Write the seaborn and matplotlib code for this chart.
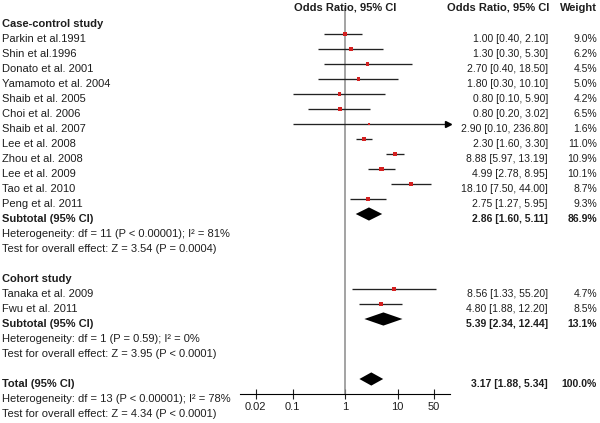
import numpy as np
import pandas as pd
import matplotlib
matplotlib.use('Agg')
import matplotlib.pyplot as plt
import matplotlib.transforms as mtransforms
from matplotlib.ticker import NullLocator
import seaborn as sns

# Case-control studies
cc_names = ['Parkin et al.1991', 'Shin et al.1996', 'Donato et al. 2001', 'Yamamoto et al. 2004',
            'Shaib et al. 2005', 'Choi et al. 2006', 'Shaib et al. 2007', 'Lee et al. 2008',
            'Zhou et al. 2008', 'Lee et al. 2009', 'Tao et al. 2010', 'Peng et al. 2011']
cc_or = [1.00, 1.30, 2.70, 1.80, 0.80, 0.80, 2.90, 2.30, 8.88, 4.99, 18.10, 2.75]
cc_lo = [0.40, 0.30, 0.40, 0.30, 0.10, 0.20, 0.10, 1.60, 5.97, 2.78, 7.50, 1.27]
cc_hi = [2.10, 5.30, 18.50, 10.10, 5.90, 3.02, 236.80, 3.30, 13.19, 8.95, 44.00, 5.95]
cc_w = [9.0, 6.2, 4.5, 5.0, 4.2, 6.5, 1.6, 11.0, 10.9, 10.1, 8.7, 9.3]
cc_sub = (2.86, 1.60, 5.11, 86.9)
cc_het = 'Heterogeneity: df = 11 (P < 0.00001); I² = 81%'
cc_test = 'Test for overall effect: Z = 3.54 (P = 0.0004)'

# Cohort studies
co_names = ['Tanaka et al. 2009', 'Fwu et al. 2011']
co_or = [8.56, 4.80]
co_lo = [1.33, 1.88]
co_hi = [55.20, 12.20]
co_w = [4.7, 8.5]
co_sub = (5.39, 2.34, 12.44, 13.1)
co_het = 'Heterogeneity: df = 1 (P = 0.59); I² = 0%'
co_test = 'Test for overall effect: Z = 3.95 (P < 0.0001)'

# Total
tot = (3.17, 1.88, 5.34, 100.0)
tot_het = 'Heterogeneity: df = 13 (P < 0.00001); I² = 78%'
tot_test = 'Test for overall effect: Z = 4.34 (P < 0.0001)'

tick_vals = [0.02, 0.1, 1, 10, 50]
tick_labels = ['0.02', '0.1', '1', '10', '50']

# rows of the table, one per line
rows = []
def add(label, kind='text', est=np.nan, lo=np.nan, hi=np.nan, w=np.nan, bold=False):
    rows.append(dict(label=label, kind=kind, est=est, lo=lo, hi=hi, w=w, bold=bold))

add('', 'header')
add('Case-control study', bold=True)
for n, e, l, h, w in zip(cc_names, cc_or, cc_lo, cc_hi, cc_w):
    add(n, 'study', e, l, h, w)
add('Subtotal (95% CI)', 'diamond', *cc_sub, bold=True)
add(cc_het)
add(cc_test)
add('')
add('Cohort study', bold=True)
for n, e, l, h, w in zip(co_names, co_or, co_lo, co_hi, co_w):
    add(n, 'study', e, l, h, w)
add('Subtotal (95% CI)', 'diamond', *co_sub, bold=True)
add(co_het)
add(co_test)
add('')
add('Total (95% CI)', 'diamond', *tot, bold=True)
add(tot_het)
add(tot_test)

df = pd.DataFrame(rows)
df['y'] = np.arange(len(df))

sns.set_style('white')
plt.rcParams['font.family'] = ['Liberation Sans', 'DejaVu Sans']
fs = 8.0
fs_val = 7.5
plt.rcParams['font.size'] = fs
txt_col = '#1e1e1e'

fig = plt.figure(figsize=(6, 4.23), dpi=100)
ax = fig.add_axes([0.4, 1 - 394 / 423, 0.35, (394 - 8) / 423])
ax.set_xscale('log')
xmin, xmax = 0.01, 100
ax.set_xlim(xmin, xmax)
ax.set_ylim(26.0, 0.267)

ax.axvline(1, color='#8a8a8a', lw=1.1, zorder=1)

st = df[df.kind == 'study']
ax.hlines(st.y, st.lo.clip(lower=xmin), st.hi.clip(upper=xmax), color='#222222', lw=0.95, zorder=2)
over = st[st.hi > xmax]
ax.plot([xmax * 0.93] * len(over), over.y, marker='>', ms=4.5, color='black', ls='none',
        clip_on=False, zorder=3)
sns.scatterplot(data=st, x='est', y='y', size='w', sizes=(2.6, 10.5),
                size_norm=(1.6, 11.0), marker='s', color='#d42020', linewidth=0,
                legend=False, ax=ax, zorder=4)

dm = df[df.kind == 'diamond']
for _, r in dm.iterrows():
    ax.fill([r.lo, r.est, r.hi, r.est], [r.y, r.y - 0.44, r.y, r.y + 0.44],
            color='black', lw=0, zorder=4)

sns.despine(ax=ax, left=True)
ax.spines['bottom'].set_color('black')
ax.spines['bottom'].set_linewidth(0.8)
ax.set_yticks([])
ax.set_xticks(tick_vals)
ax.set_xticklabels(tick_labels)
ax.xaxis.set_minor_locator(NullLocator())
ax.tick_params(axis='x', bottom=True, direction='inout', length=7, width=0.8,
               pad=2, labelsize=fs, colors=txt_col)
ax.set_xlabel('')
ax.set_ylabel('')

trans = mtransforms.blended_transform_factory(fig.transFigure, ax.transData)
off = 0.53
# headers
ax.text(1, 0.45, 'Odds Ratio, 95% CI', ha='center', va='baseline', fontweight='bold',
        color=txt_col, clip_on=False)
ax.text(549 / 600, 0.45, 'Odds Ratio, 95% CI', transform=trans, ha='right', va='baseline',
        fontweight='bold', color=txt_col)
ax.text(597 / 600, 0.45, 'Weight', transform=trans, ha='right', va='baseline',
        fontweight='bold', color=txt_col)

for _, r in df[df.kind != 'header'].iterrows():
    fw = 'bold' if r.bold else 'normal'
    ax.text(2 / 600, r.y + off, r.label, transform=trans, ha='left', va='baseline',
            fontweight=fw, color=txt_col, clip_on=False)
    if r.kind in ('study', 'diamond'):
        ax.text(548 / 600, r.y + off, f'{r.est:.2f} [{r.lo:.2f}, {r.hi:.2f}]', transform=trans,
                ha='right', va='baseline', fontweight=fw, fontsize=fs_val, color=txt_col,
                clip_on=False)
        ax.text(597 / 600, r.y + off, f'{r.w:.1f}%', transform=trans, ha='right',
                va='baseline', fontweight=fw, fontsize=fs_val, color=txt_col, clip_on=False)

fig.savefig('out.png', dpi=100)
